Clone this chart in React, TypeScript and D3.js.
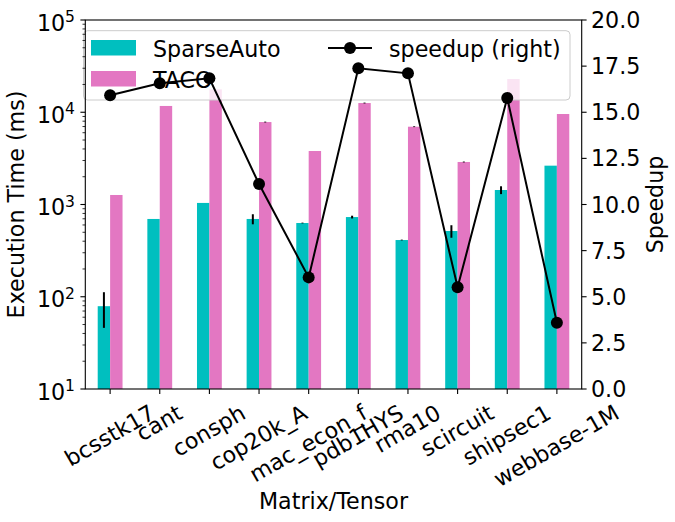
import { useEffect, useRef } from 'react';
import * as d3 from 'd3';

const matrices = ['bcsstk17', 'cant', 'consph', 'cop20k_A', 'mac_econ_f', 'pdb1HYS', 'rma10', 'scircuit', 'shipsec1', 'webbase-1M'];
const sparseAutoMs = [79, 697, 1040, 697, 630, 731, 412, 516, 1436, 2636];
const sparseAutoErr = [33, 0, 0, 87, 6, 25, 4, 80, 140, 0];
const tacoMs = [1268, 11700, 17700, 7830, 3800, 12590, 6970, 2890, 22900, 9570];
const tacoErr = [0, 0, 0, 80, 0, 130, 70, 30, 0, 0];
const speedup = [15.92, 16.57, 16.84, 11.11, 6.05, 17.38, 17.11, 5.51, 15.77, 3.59];
const leftExponents = [1, 2, 3, 4, 5];
const rightTicks = [0, 2.5, 5, 7.5, 10, 12.5, 15, 17.5, 20];

const W = 675;
const H = 522;
const FS = 22.2;
const FONT = '"DejaVu Sans", sans-serif';
const teal = '#00bfbf';
const pink = '#e377c2';

const left = 85.3;
const right = 581.7;
const top = 20;
const bottom = 389;

export default function App() {
  const xLabels = useRef<SVGGElement>(null);

  const x = d3.scaleLinear().domain([-0.5, matrices.length - 0.5]).range([left, right]);
  const yL = d3.scaleLog().domain([10, 1e5]).range([bottom, top]);
  const yR = d3.scaleLinear().domain([0, 20]).range([bottom, top]);
  const bw = x(0.25) - x(0);

  const minor: number[] = [];
  for (let e = 1; e < 5; e++) for (let m = 2; m <= 9; m++) minor.push(m * 10 ** e);

  const line = d3
    .line<number>()
    .x((_, i) => x(i))
    .y((d) => yR(d));

  // rotated tick labels: centre the rotated box on the tick, top just under the ticks
  useEffect(() => {
    const g = xLabels.current;
    if (!g) return;
    const a = (30 * Math.PI) / 180;
    d3.select(g)
      .selectAll<SVGTextElement, unknown>('text')
      .each(function () {
        const w = this.getComputedTextLength();
        const bh = w * Math.sin(a) + FS * 1.0 * Math.cos(a);
        const cx = +(this.getAttribute('data-x') || 0);
        d3.select(this).attr('transform', `translate(${cx},${bottom + 13 + bh / 2}) rotate(-30)`);
      });
  }, []);

  return (
    <svg width={W} height={H} style={{ position: 'absolute', left: 0, top: 0 }} fontFamily={FONT}>
      <rect width={W} height={H} fill="white" />
      {/* bars */}
      {matrices.map((m, i) => (
        <g key={m}>
          <rect x={x(i) - bw} y={yL(sparseAutoMs[i])} width={bw} height={bottom - yL(sparseAutoMs[i])} fill={teal} />
          <rect x={x(i)} y={yL(tacoMs[i])} width={bw} height={bottom - yL(tacoMs[i])} fill={pink} />
          {sparseAutoErr[i] > 0 && (
            <line
              x1={x(i) - bw / 2}
              x2={x(i) - bw / 2}
              y1={yL(sparseAutoMs[i] - sparseAutoErr[i])}
              y2={yL(sparseAutoMs[i] + sparseAutoErr[i])}
              stroke="black"
              strokeWidth={2}
            />
          )}
          {tacoErr[i] > 0 && (
            <line
              x1={x(i) + bw / 2}
              x2={x(i) + bw / 2}
              y1={yL(tacoMs[i] - tacoErr[i])}
              y2={yL(tacoMs[i] + tacoErr[i])}
              stroke="black"
              strokeWidth={2}
            />
          )}
        </g>
      ))}

      {/* legend */}
      <rect x={83.5} y={30.7} width={486.5} height={69.3} rx={4} fill="white" fillOpacity={0.8} stroke="#cccccc" strokeWidth={1} />
      <rect x={91} y={40} width={45} height={15.5} fill={teal} />
      <rect x={91} y={71} width={45} height={15.5} fill={pink} />
      <text x={153} y={56.5} fontSize={FS}>SparseAuto</text>
      <text x={153} y={87.5} fontSize={FS}>TACO</text>
      <line x1={328} x2={372} y1={48} y2={48} stroke="black" strokeWidth={2} />
      <circle cx={350} cy={48} r={6} fill="black" />
      <text x={389} y={56.5} fontSize={FS}>speedup (right)</text>

      {/* frame */}
      <rect x={left} y={top} width={right - left} height={bottom - top} fill="none" stroke="black" strokeWidth={1.1} />

      {/* left axis */}
      {minor.map((v) => (
        <line key={v} x1={left} x2={left - 2.8} y1={yL(v)} y2={yL(v)} stroke="black" strokeWidth={0.8} />
      ))}
      {leftExponents.map((e) => (
        <g key={e}>
          <line x1={left} x2={left - 4.9} y1={yL(10 ** e)} y2={yL(10 ** e)} stroke="black" strokeWidth={1.1} />
          <text x={75} y={yL(10 ** e) + 10.5} fontSize={FS} textAnchor="end">
            10
            <tspan dy={-8.5} fontSize={FS * 0.7}>
              {e}
            </tspan>
          </text>
        </g>
      ))}
      <text transform={`translate(24,${(top + bottom) / 2}) rotate(-90)`} fontSize={FS} textAnchor="middle">
        Execution Time (ms)
      </text>

      {/* right axis */}
      {rightTicks.map((t) => (
        <g key={t}>
          <line x1={right} x2={right + 4.9} y1={yR(t)} y2={yR(t)} stroke="black" strokeWidth={1.1} />
          <text x={591} y={yR(t) + 8} fontSize={FS}>
            {t.toFixed(1)}
          </text>
        </g>
      ))}
      <text transform={`translate(663,${(top + bottom) / 2}) rotate(-90)`} fontSize={FS} textAnchor="middle">
        Speedup
      </text>

      {/* x axis */}
      {matrices.map((m, i) => (
        <line key={m} x1={x(i)} x2={x(i)} y1={bottom} y2={bottom + 4.9} stroke="black" strokeWidth={1.1} />
      ))}
      <g ref={xLabels}>
        {matrices.map((m, i) => (
          <text key={m} data-x={x(i)} fontSize={FS} textAnchor="middle" dy="0.3em" transform={`translate(${x(i)},430) rotate(-30)`}>
            {m}
          </text>
        ))}
      </g>
      <text x={(left + right) / 2} y={509} fontSize={FS} textAnchor="middle">
        Matrix/Tensor
      </text>

      {/* speedup line */}
      <path d={line(speedup)!} fill="none" stroke="black" strokeWidth={2} />
      {speedup.map((s, i) => (
        <circle key={i} cx={x(i)} cy={yR(s)} r={6} fill="black" />
      ))}
    </svg>
  );
}
